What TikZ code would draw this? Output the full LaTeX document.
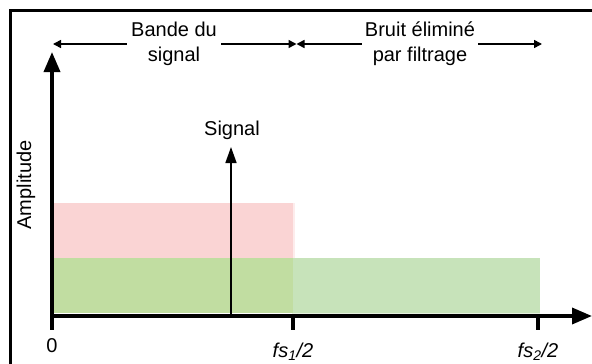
\documentclass[tikz,border=0pt]{standalone}
\usepackage{fontspec}
\setmainfont{Liberation Sans}
\usetikzlibrary{arrows.meta}

\definecolor{bandred}{RGB}{250,212,212}
\definecolor{bandgreen}{RGB}{193,221,161}
\definecolor{noisegreen}{RGB}{199,227,186}

\tikzset{
  txt/.style={font=\fontsize{20}{25}\selectfont, inner sep=2pt},
  axis/.style={line width=3.5pt, -{Triangle[length=20pt,width=16pt]}},
  tick/.style={line width=3.5pt},
  frameline/.style={line width=3pt, line cap=rect},
  dimarrow/.style={line width=1.5pt, -{Triangle[length=8pt,width=8pt]}},
  sigarrow/.style={line width=1.5pt, -{Triangle[length=16pt,width=11pt]}},
  softband/.style={draw opacity=0.45, line width=3pt},
}

\begin{document}
\begin{tikzpicture}[x=1pt,y=-1pt]
  \useasboundingbox (0,0) rectangle (592,364);

  % outer frame (only the top and left edges fall inside the page)
  \draw[frameline] (10,370) -- (10,10) -- (600,10);

  % spectrum bands
  \fill[bandred] (53,203) rectangle (293,258);
  \draw[bandred, softband] (54,204.5) rectangle (293,258);
  \fill[noisegreen] (293,258) rectangle (540,313);
  \draw[noisegreen, softband] (293,259.5) rectangle (538.5,313);
  \fill[bandgreen] (53,258) rectangle (293,313);

  % axes
  \coordinate (O) at (52,316);
  \coordinate (ytop) at (52,52);
  \coordinate (xend) at (592,316);
  \draw[axis] (52,318) -- (ytop);
  \draw[axis] (50.5,316) -- (xend);

  % ticks
  \coordinate (t0) at (52,330);
  \coordinate (t1) at (293,330);
  \coordinate (t2) at (538,330);
  \draw[tick] (O) -- (t0);
  \draw[tick] (293,316) -- (t1);
  \draw[tick] (538,316) -- (t2);

  % tick labels
  \node[txt, anchor=base] (l0) at (52,352) {0};
  \node[txt, anchor=base] (l1) at (293,357) {\textit{fs\textsubscript{1}/2}};
  \node[txt, anchor=base] (l2) at (538,357) {\textit{fs\textsubscript{2}/2}};

  % y-axis label
  \node[txt, rotate=90] (amp) at (26,185) {Amplitude};

  % signal line
  \coordinate (sbase) at (231,316);
  \coordinate (stip) at (231,147);
  \draw[sigarrow] (sbase) -- (stip);
  \node[txt] (sig) at (232,130) {Signal};

  % band annotations
  \coordinate (dL) at (53,44);
  \coordinate (dM) at (296.5,44);
  \coordinate (dR) at (542,44);
  \node[txt, align=center, inner xsep=4pt] (bande) at (174,44) {Bande du\\signal};
  \node[txt, align=center, inner xsep=3pt] (bruit) at (420,44) {Bruit éliminé\\par filtrage};
  \draw[dimarrow] (bande.west) -- (dL);
  \draw[dimarrow] (bande.east) -- (dM);
  \draw[dimarrow] (bruit.west) -- (dM);
  \draw[dimarrow] (bruit.east) -- (dR);
\end{tikzpicture}
\end{document}
